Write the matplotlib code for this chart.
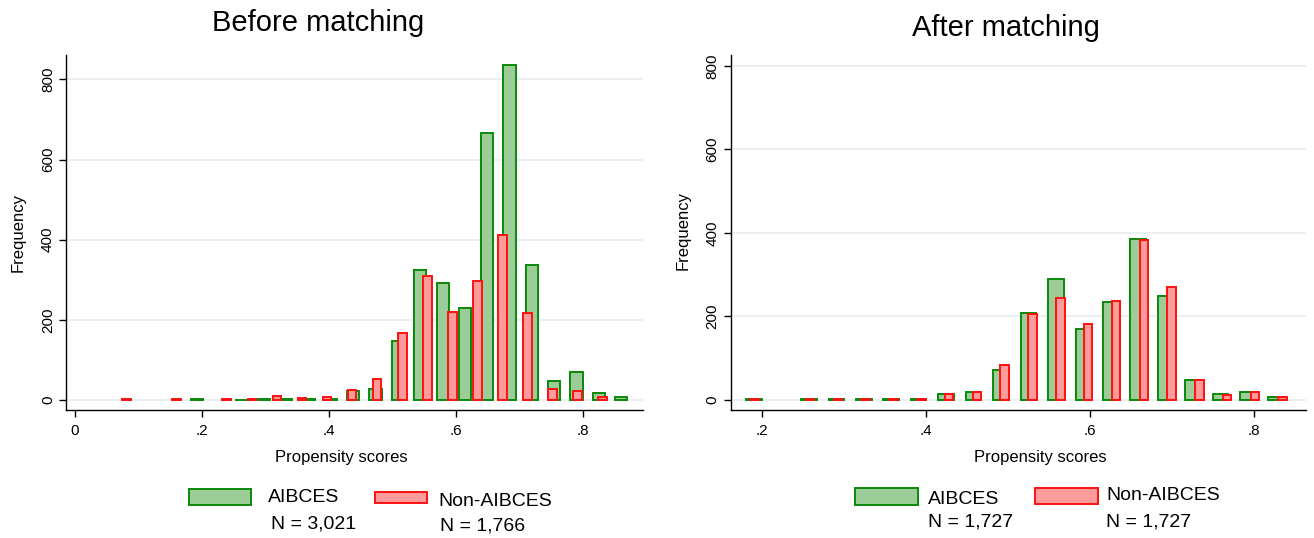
import numpy as np
import matplotlib
matplotlib.use("Agg")
import matplotlib.pyplot as plt
from matplotlib.patches import Rectangle

plt.rcParams['font.family'] = ['Liberation Sans', 'DejaVu Sans']

# before matching: bin centres and counts
before_treat_x = [0.1918, 0.2270, 0.2622, 0.2973, 0.3325, 0.3677, 0.4029, 0.4381, 0.4732, 0.5084,
                  0.5436, 0.5788, 0.6140, 0.6491, 0.6843, 0.7195, 0.7547, 0.7898, 0.8250, 0.8602]
before_treat_n = [2, 0, 1, 3, 3, 3, 3, 22, 27, 147, 325, 291, 229, 667, 835, 338, 47, 71, 17, 7]
before_ctrl_x = [0.0811, 0.1206, 0.1600, 0.1995, 0.2390, 0.2785, 0.3179, 0.3574, 0.3969, 0.4363,
                 0.4758, 0.5153, 0.5547, 0.5942, 0.6337, 0.6731, 0.7126, 0.7521, 0.7915, 0.8310]
before_ctrl_n = [3, 0, 2, 0, 3, 3, 9, 6, 8, 25, 52, 168, 310, 220, 296, 412, 218, 27, 22, 7]

# after matching
after_treat_x = [0.1906, 0.2240, 0.2575, 0.2909, 0.3243, 0.3578, 0.3912, 0.4246, 0.4580, 0.4915,
                 0.5249, 0.5583, 0.5918, 0.6252, 0.6586, 0.6921, 0.7255, 0.7589, 0.7923, 0.8258]
after_treat_n = [3, 0, 3, 3, 3, 3, 3, 14, 19, 71, 209, 290, 169, 235, 386, 249, 49, 14, 20, 6]
after_ctrl_x = [0.1912, 0.2251, 0.2589, 0.2928, 0.3267, 0.3606, 0.3944, 0.4283, 0.4622, 0.4960,
                0.5299, 0.5638, 0.5976, 0.6315, 0.6654, 0.6993, 0.7331, 0.7670, 0.8009, 0.8347]
after_ctrl_n = [3, 0, 3, 3, 3, 3, 3, 15, 18, 83, 207, 244, 181, 236, 384, 271, 49, 13, 20, 6]

yticks = [0, 200, 400, 600, 800]
left_xticks = [0, 0.2, 0.4, 0.6, 0.8]
left_xlabels = ["0", ".2", ".4", ".6", ".8"]
right_xticks = [0.2, 0.4, 0.6, 0.8]
right_xlabels = [".2", ".4", ".6", ".8"]

green_fill, green_edge = "#9ccd99", "#0a8a0a"
red_fill, red_edge = "#ff9b9b", "#ff1010"
grid_col = "#e9eff2"

W, H = 1314, 538
fig = plt.figure(figsize=(W / 100, H / 100), dpi=100)


def px(x, y):
    return x / W, 1 - y / H


def panel(rect, xlim, ylim, tx, tn, cx, cn, gw, rw, xticks, xlabels, xlab_pos, ylab_pos):
    ax = fig.add_axes(rect)
    tx, tn, cx, cn = map(np.asarray, (tx, tn, cx, cn))
    m = tn > 0
    ax.bar(tx[m], tn[m], width=gw, color=green_fill, edgecolor=green_edge, linewidth=1.4, zorder=2)
    m = cn > 0
    ax.bar(cx[m], cn[m], width=rw, color=red_fill, edgecolor=red_edge, linewidth=1.4, zorder=3)
    ax.set_xlim(*xlim)
    ax.set_ylim(*ylim)
    ax.set_yticks(yticks)
    ax.set_yticklabels([str(v) for v in yticks], rotation=90, va="center")
    ax.set_xticks(xticks)
    ax.set_xticklabels(xlabels)
    ax.tick_params(axis="both", direction="out", length=5, width=1.0, labelsize=11)
    ax.tick_params(axis="x", pad=5)
    ax.tick_params(axis="y", pad=3)
    for y in yticks:
        ax.axhline(y, color=grid_col, linewidth=1.5, zorder=1)
    for s in ("top", "right"):
        ax.spines[s].set_visible(False)
    for s in ("left", "bottom"):
        ax.spines[s].set_linewidth(1.0)
    ax.set_xlabel("Propensity scores", fontsize=12, va="center")
    ax.xaxis.set_label_coords(*xlab_pos)
    ax.set_ylabel("Frequency", fontsize=12, va="center")
    ax.yaxis.set_label_coords(*ylab_pos)
    return ax


ax1 = panel([66 / W, 1 - 410 / H, 577 / W, 355 / H], (-0.0142, 0.8945), (-25, 861),
            before_treat_x, before_treat_n, before_ctrl_x, before_ctrl_n, 0.019, 0.0135,
            left_xticks, left_xlabels, (0.478, -0.135), (-0.083, 0.499))
ax2 = panel([730.5 / W, 1 - 410 / H, 575.5 / W, 355 / H], (0.162, 0.863), (-24, 826),
            after_treat_x, after_treat_n, after_ctrl_x, after_ctrl_n, 0.019, 0.0104,
            right_xticks, right_xlabels, (0.538, -0.135), (-0.0825, 0.507))

fig.text(*px(318, 23), "Before matching", fontsize=21, ha="center", va="center")
fig.text(*px(1006, 28), "After matching", fontsize=21, ha="center", va="center")


def legend_key(x0, y0, x1, y1, fc, ec):
    fx0, fy1 = px(x0, y0)
    fx1, fy0 = px(x1, y1)
    fig.add_artist(Rectangle((fx0, fy0), fx1 - fx0, fy1 - fy0, transform=fig.transFigure,
                             facecolor=fc, edgecolor=ec, linewidth=1.4))


def legend_text(x, y, s):
    fig.text(*px(x, y), s, fontsize=14, ha="left", va="center")


# left legend
legend_key(189, 489, 251, 505, green_fill, green_edge)
legend_text(268, 497, "AIBCES")
legend_text(271, 524, "N = 3,021")
legend_key(375, 492, 427, 503, red_fill, red_edge)
legend_text(438, 501, "Non-AIBCES")
legend_text(440, 526, "N = 1,766")

# right legend
legend_key(855, 488, 918, 505, green_fill, green_edge)
legend_text(928, 500, "AIBCES")
legend_text(928, 522, "N = 1,727")
legend_key(1035, 488, 1098, 504, red_fill, red_edge)
legend_text(1106, 496, "Non-AIBCES")
legend_text(1106, 522, "N = 1,727")

fig.savefig("out.png", dpi=100)
